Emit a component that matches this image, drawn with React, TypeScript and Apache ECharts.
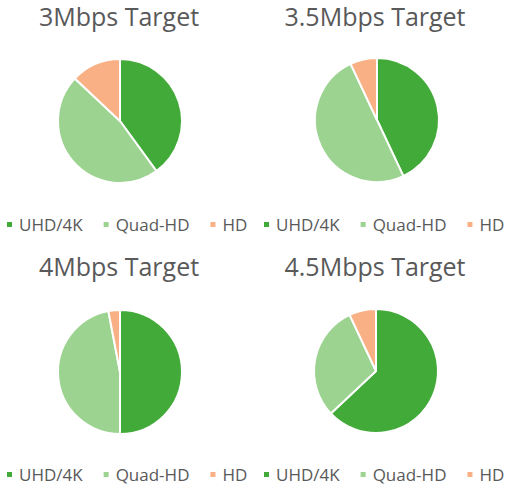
import React, { useEffect, useRef } from "react";
import * as echarts from "echarts";

const categories = ["UHD/4K", "Quad-HD", "HD"];
const chartTitles = ["3Mbps Target", "3.5Mbps Target", "4Mbps Target", "4.5Mbps Target"];
const share3 = [40, 47, 13];
const share35 = [43, 50, 7];
const share4 = [50, 47, 3];
const share45 = [63, 30, 7];
const colors = ["#42aa39", "#9cd390", "#f9b084"];

const allShares = [share3, share35, share4, share45];
const centers: [number, number][] = [
  [120, 121],
  [377, 120],
  [120, 372],
  [376, 371],
];
const titlePos: [number, number][] = [
  [119, 3],
  [375, 3],
  [119, 253],
  [375, 253],
];
const legendPos: [number, number][] = [
  [5, 216],
  [262, 216],
  [5, 466],
  [262, 466],
];

export default function App() {
  const ref = useRef<HTMLDivElement>(null);
  useEffect(() => {
    if (!ref.current) return;
    const chart = echarts.init(ref.current, null, { renderer: "svg" });
    const font = "'Open Sans', sans-serif";
    chart.setOption({
      animation: false,
      backgroundColor: "#ffffff",
      color: colors,
      title: chartTitles.map((t, i) => ({
        text: t,
        left: titlePos[i][0],
        top: titlePos[i][1],
        textAlign: "center",
        padding: 0,
        textStyle: { fontFamily: font, fontSize: 25, lineHeight: 26, fontWeight: "normal", color: "#595959" },
      })),
      legend: legendPos.map((p) => ({
        data: categories,
        left: p[0],
        top: p[1],
        padding: 0,
        icon: "rect",
        itemWidth: 7,
        itemHeight: 7,
        itemGap: 19,
        selectedMode: false,
        textStyle: { fontFamily: font, fontSize: 17, color: "#595959", padding: [0, 0, 0, 1] },
      })),
      series: allShares.map((vals, i) => ({
        type: "pie",
        center: centers[i],
        radius: 62,
        startAngle: 90,
        clockwise: true,
        label: { show: false },
        labelLine: { show: false },
        emphasis: { disabled: true },
        itemStyle: { borderColor: "#ffffff", borderWidth: 2 },
        data: categories.map((c, j) => ({ name: c, value: vals[j] })),
      })),
    });
    return () => chart.dispose();
  }, []);
  return (
    <div
      ref={ref}
      style={{ position: "fixed", left: 0, top: 0, width: 505, height: 490 }}
    />
  );
}
